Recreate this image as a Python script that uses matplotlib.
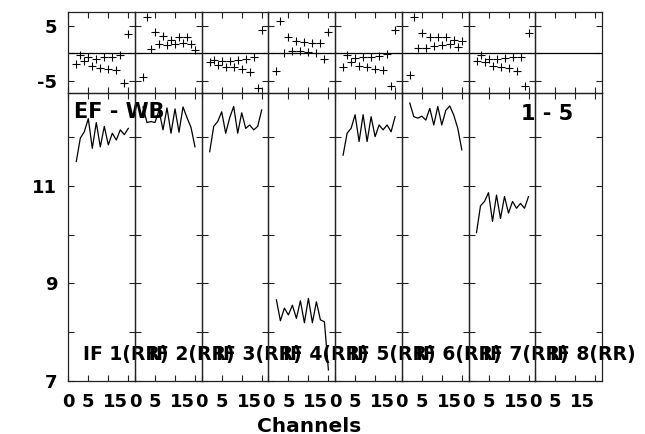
import matplotlib
matplotlib.use('Agg')
import matplotlib.pyplot as plt

plt.rcParams['font.family'] = ['DejaVu Sans']
plt.rcParams['font.weight'] = 'bold'

channels = list(range(2, 16))
if_labels = ['IF 1(RR)', 'IF 2(RR)', 'IF 3(RR)', 'IF 4(RR)',
             'IF 5(RR)', 'IF 6(RR)', 'IF 7(RR)', 'IF 8(RR)']

# upper panels (phase difference), one list per IF
phase_if1 = [-1.94, -0.24, -1.33, -0.73, -2.25, -1.03, -2.74, -0.73, -2.86, -0.60, -3.04, -0.30, -5.48, 3.54]
phase_if2 = [-4.26, 6.58, 0.80, 3.84, 1.72, 3.24, 1.59, 2.45, 1.72, 2.93, 1.83, 3.05, 1.72, 0.62]
phase_if3 = [-1.64, -1.21, -2.07, -1.40, -2.43, -1.40, -2.55, -1.21, -2.86, -1.03, -3.47, -0.60, -6.33, 4.27]
phase_if4 = [-3.16, 5.98, 0.05, 3.05, 0.37, 2.32, 0.40, 2.01, 0.18, 1.83, 0.00, 1.90, -1.03, 3.97]
phase_if5 = [-2.43, -0.24, -1.64, -0.85, -2.25, -0.73, -2.55, -0.60, -2.86, -0.42, -3.04, -0.12, -5.90, 4.27]
phase_if6 = [-3.89, 6.71, 0.98, 3.66, 0.98, 2.93, 1.41, 3.05, 1.59, 3.05, 1.72, 2.45, 1.10, 2.20]
phase_if7 = [-1.46, -0.24, -1.64, -1.03, -2.25, -1.03, -2.55, -0.85, -2.74, -0.60, -3.16, -0.60, -5.90, 3.66]

# lower panels (amplitude), one list per IF
amp_if1 = [11.50, 11.98, 12.11, 12.38, 11.77, 12.30, 11.80, 12.22, 11.84, 12.08, 11.94, 12.15, 12.05, 12.18]
amp_if2 = [12.62, 12.30, 12.32, 12.30, 12.55, 12.15, 12.60, 12.08, 12.58, 12.10, 12.62, 12.40, 12.20, 11.80]
amp_if3 = [11.70, 12.22, 12.32, 12.52, 12.08, 12.40, 12.63, 12.08, 12.50, 12.18, 12.25, 12.15, 12.22, 12.56]
amp_if4 = [8.66, 8.23, 8.49, 8.35, 8.55, 8.28, 8.64, 8.19, 8.69, 8.19, 8.62, 8.25, 8.21, 7.22]
amp_if5 = [11.63, 12.08, 12.18, 12.46, 11.91, 12.46, 11.91, 12.42, 12.01, 12.25, 12.15, 12.25, 12.11, 12.42]
amp_if6 = [12.70, 12.42, 12.39, 12.43, 12.35, 12.59, 12.25, 12.63, 12.25, 12.55, 12.64, 12.45, 12.18, 11.74]
amp_if7 = [10.04, 10.59, 10.68, 10.86, 10.27, 10.81, 10.33, 10.78, 10.44, 10.68, 10.54, 10.64, 10.54, 10.78]

phase = [phase_if1, phase_if2, phase_if3, phase_if4, phase_if5, phase_if6, phase_if7, None]
amp = [amp_if1, amp_if2, amp_if3, amp_if4, amp_if5, amp_if6, amp_if7, None]

W, H = 645, 434
fig = plt.figure(figsize=(W / 100, H / 100), dpi=100)

x0, pw = 68.3, 66.7          # left edge and panel width (px)
top_y0, top_y1 = 11.7, 93.3  # top row (px from top)
bot_y1 = 380.7


def style(ax):
    ax.patch.set_visible(False)
    for s in ax.spines.values():
        s.set_linewidth(0.9)
        s.set_color('#222222')
    ax.tick_params(direction='in', top=True, right=True, length=4.5,
                   width=0.8, color='#222222', labelsize=13)
    ax.tick_params(axis='x', pad=9)
    ax.tick_params(axis='y', pad=8)
    ax.set_xlim(0, pw / 4.0)


def frac(px_left, px_top, px_w, px_h):
    return [px_left / W, 1 - (px_top + px_h) / H, px_w / W, px_h / H]


for i in range(8):
    left = x0 + i * pw
    ax_t = fig.add_axes(frac(left, top_y0, pw, top_y1 - top_y0))
    ax_b = fig.add_axes(frac(left, top_y1, pw, bot_y1 - top_y1))
    style(ax_t)
    style(ax_b)

    ax_t.set_ylim(-7.3, 7.6)
    ax_t.set_yticks([-5, 0, 5], ['-5', '', '5'])
    ax_t.set_xticks([0, 5, 10, 15], [])
    ax_t.axhline(0, color='black', linewidth=0.9)

    ax_b.set_ylim(7, 12.9)
    ax_b.set_yticks([7, 8, 9, 10, 11, 12], ['7', '', '9', '', '11', ''])
    ax_b.set_xticks([0, 5, 10, 15], ['0', '5', '', '15'])
    ax_b.get_xticklabels()[3].set_horizontalalignment('right')

    if i > 0:
        ax_t.set_yticklabels([])
        ax_b.set_yticklabels([])

    if phase[i] is not None:
        ax_t.plot(channels, phase[i], '+', color='black', markersize=6,
                  markeredgewidth=0.8, clip_on=False)
        ax_b.plot(channels, amp[i], '-', color='black', linewidth=0.9)

    ax_b.text(3.6, 7.425, if_labels[i], fontsize=13.5, fontweight='bold',
              ha='left', va='baseline', clip_on=False, zorder=5)

    if i == 0:
        ax_b.text(1.4, 12.388, 'EF - WB', fontsize=15, fontweight='bold',
                  ha='left', va='baseline', clip_on=False, zorder=5)
    if i == 7:
        ax_b.text(9.5, 12.353, '1 - 5', fontsize=15, fontweight='bold',
                  ha='right', va='baseline', clip_on=False, zorder=5)

fig.text(309 / W, 2.5 / H, 'Channels', fontsize=14.5, fontweight='bold',
         ha='center', va='baseline')

fig.savefig('out.png', dpi=100)
